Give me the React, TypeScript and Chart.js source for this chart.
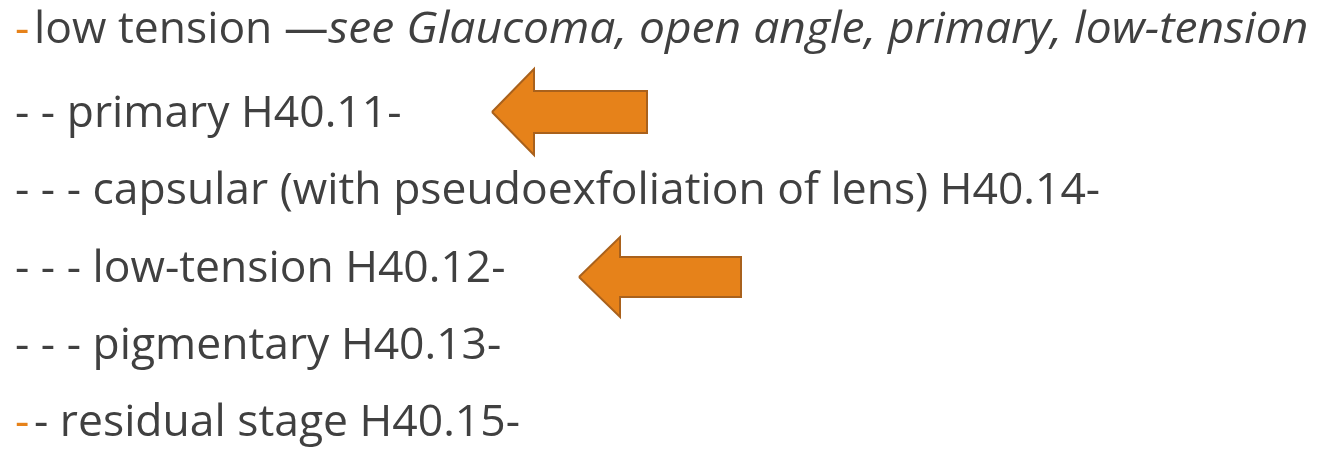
import React, { useEffect, useRef } from "react";
import { Chart, registerables } from "chart.js";

Chart.register(...registerables);

// Text lines (prefix in orange, main text, italic tail)
const linePrefixes = ["-", "", "", "", "", "-"];
const lineTexts = [
  "low tension \u2014",
  "- - primary H40.11-",
  "- - - capsular (with pseudoexfoliation of lens) H40.14-",
  "- - - low-tension H40.12-",
  "- - - pigmentary H40.13-",
  "- residual stage H40.15-",
];
const lineItalics = ["see Glaucoma, open angle, primary, low-tension", "", "", "", "", ""];
const lineBaselines = [43, 127, 204, 282, 359, 436];

// Arrow shapes (left-pointing): tip, head base, tail, half-heights
const arrowTipX = [492, 579];
const arrowTipY = [112, 277];
const arrowHeadX = [534, 620];
const arrowTailX = [647, 741];
const arrowHeadHalf = [43, 40];
const arrowShaftHalf = [21, 20];

const TEXT_COLOR = "#404040";
const ACCENT = "#E6821A";
const FONT_FAMILY = "'Open Sans', sans-serif";
const FONT_SIZE = 44;
const SCALE_X = 1.01;
const ITALIC_SCALE_X = 1.05;

function arrowPolygon(i: number) {
  const tx = arrowTipX[i];
  const ty = arrowTipY[i];
  const hx = arrowHeadX[i];
  const ex = arrowTailX[i];
  const hh = arrowHeadHalf[i];
  const sh = arrowShaftHalf[i];
  return [
    { x: tx, y: ty },
    { x: hx, y: ty - hh },
    { x: hx, y: ty - sh },
    { x: ex, y: ty - sh },
    { x: ex, y: ty + sh },
    { x: hx, y: ty + sh },
    { x: hx, y: ty + hh },
    { x: tx, y: ty },
  ];
}

const textPlugin = {
  id: "slideText",
  afterDatasetsDraw(chart: any) {
    const ctx = chart.ctx as CanvasRenderingContext2D;
    const xs = chart.scales.x;
    const ys = chart.scales.y;
    ctx.save();
    ctx.textBaseline = "alphabetic";
    ctx.textAlign = "left";
    for (let i = 0; i < lineTexts.length; i++) {
      const y = ys.getPixelForValue(lineBaselines[i]);
      const x0 = xs.getPixelForValue(15);
      let x = x0;
      ctx.font = `${FONT_SIZE}px ${FONT_FAMILY}`;
      if (linePrefixes[i]) {
        ctx.save();
        ctx.translate(x, y);
        ctx.scale(SCALE_X, 1);
        ctx.fillStyle = ACCENT;
        ctx.fillText(linePrefixes[i], 0, 0);
        ctx.restore();
        x = xs.getPixelForValue(34);
      }
      ctx.save();
      ctx.translate(x, y);
      ctx.scale(SCALE_X, 1);
      ctx.fillStyle = TEXT_COLOR;
      ctx.fillText(lineTexts[i], 0, 0);
      const w = ctx.measureText(lineTexts[i]).width * SCALE_X;
      ctx.restore();
      x += w;
      if (lineItalics[i]) {
        ctx.save();
        ctx.font = `italic ${FONT_SIZE}px ${FONT_FAMILY}`;
        ctx.translate(x, y);
        ctx.scale(ITALIC_SCALE_X, 1);
        ctx.fillStyle = TEXT_COLOR;
        ctx.fillText(lineItalics[i], 0, 0);
        ctx.restore();
      }
    }
    ctx.restore();
  },
};

export default function App() {
  const ref = useRef<HTMLCanvasElement | null>(null);
  useEffect(() => {
    if (!ref.current) return;
    const chart = new Chart(ref.current, {
      type: "scatter",
      data: {
        datasets: arrowTipX.map((_, i) => ({
          data: arrowPolygon(i),
          showLine: true,
          fill: "shape",
          backgroundColor: ACCENT,
          borderColor: "#A9611C",
          borderWidth: 2,
          pointRadius: 0,
          tension: 0,
          borderJoinStyle: "miter",
        })),
      } as any,
      options: {
        animation: false,
        responsive: true,
        maintainAspectRatio: false,
        layout: { padding: 0 },
        plugins: { legend: { display: false }, tooltip: { enabled: false } },
        events: [],
        scales: {
          x: { type: "linear", min: 0, max: 1320, display: false },
          y: { type: "linear", min: 0, max: 450, reverse: true, display: false },
        },
      } as any,
      plugins: [textPlugin],
    });
    return () => chart.destroy();
  }, []);
  return (
    <div style={{ position: "fixed", left: 0, top: 0, width: 1320, height: 450, background: "#fff" }}>
      <canvas ref={ref} />
    </div>
  );
}
